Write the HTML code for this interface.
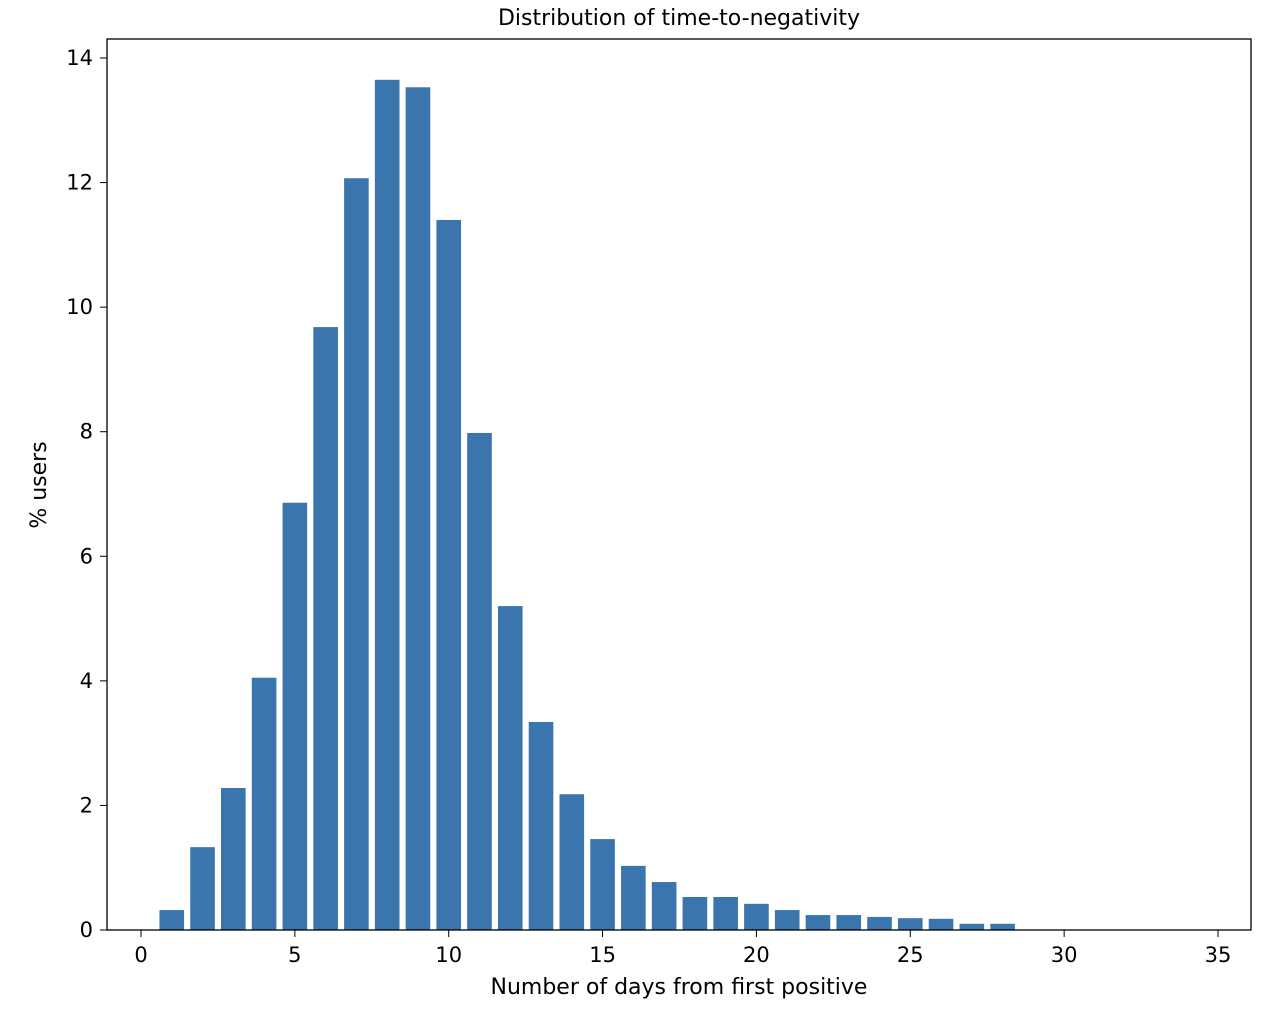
<!DOCTYPE html>
<html><head><meta charset="utf-8"><style>
body{margin:0;background:#fff;font-family:"Liberation Sans","DejaVu Sans",sans-serif;}
svg text{font-family:"DejaVu Sans","Liberation Sans",sans-serif;fill:#000;}
</style></head><body>
<svg id="chart" width="1280" height="1011" viewBox="0 0 1280 1011">
<text x="679" y="25" font-size="22" text-anchor="middle">Distribution of time-to-negativity</text>
<g id="bars"></g>
<rect x="107" y="39" width="1144" height="891" fill="none" stroke="#000" stroke-width="1.3"/>
<g id="xticks"></g><g id="yticks"></g>
<text x="679" y="994" font-size="22" text-anchor="middle">Number of days from first positive</text>
<text transform="translate(46,485) rotate(-90)" font-size="22" text-anchor="middle">% users</text>
</svg>
<script>
const days=[1,2,3,4,5,6,7,8,9,10,11,12,13,14,15,16,17,18,19,20,21,22,23,24,25,26,27,28];
const pct=[0.32,1.33,2.28,4.05,6.86,9.68,12.07,13.65,13.53,11.40,7.98,5.20,3.34,2.18,1.46,1.03,0.77,0.53,0.53,0.42,0.32,0.24,0.24,0.21,0.19,0.18,0.10,0.10];
const xTickLabels=[0,5,10,15,20,25,30,35];
const yTickLabels=[0,2,4,6,8,10,12,14];
const NS="http://www.w3.org/2000/svg";
const xs=v=>141+v*(1218-141)/35;
const ys=v=>930-v*(930-58)/14;
const bars=document.getElementById('bars');
days.forEach((d,i)=>{
  const r=document.createElementNS(NS,'rect');
  
  
  const x0=xs(d-0.4),x1=xs(d+0.4);
  r.setAttribute('x',x0);r.setAttribute('width',x1-x0);
  r.setAttribute('y',ys(pct[i]));r.setAttribute('height',ys(0)-ys(pct[i]));
  r.setAttribute('fill','#3a75ae');
  bars.appendChild(r);
});
const xt=document.getElementById('xticks');
xTickLabels.forEach(v=>{
  const l=document.createElementNS(NS,'line');
  
  
  l.setAttribute('x1',xs(v));l.setAttribute('x2',xs(v));l.setAttribute('y1',930);l.setAttribute('y2',937);l.setAttribute('stroke','#000');
  xt.appendChild(l);
  const t=document.createElementNS(NS,'text');
  
  
  t.setAttribute('x',xs(v));t.setAttribute('y',962);t.setAttribute('font-size','21');t.setAttribute('text-anchor','middle');
  t.textContent=v;xt.appendChild(t);
});
const yt=document.getElementById('yticks');
yTickLabels.forEach(v=>{
  const l=document.createElementNS(NS,'line');
  
  
  l.setAttribute('x1',100);l.setAttribute('x2',107);l.setAttribute('y1',ys(v));l.setAttribute('y2',ys(v));l.setAttribute('stroke','#000');
  yt.appendChild(l);
  const t=document.createElementNS(NS,'text');
  
  
  t.setAttribute('x',93);t.setAttribute('y',ys(v)+7);t.setAttribute('font-size','21');t.setAttribute('text-anchor','end');
  t.textContent=v;yt.appendChild(t);
});
</script>
</body></html>
